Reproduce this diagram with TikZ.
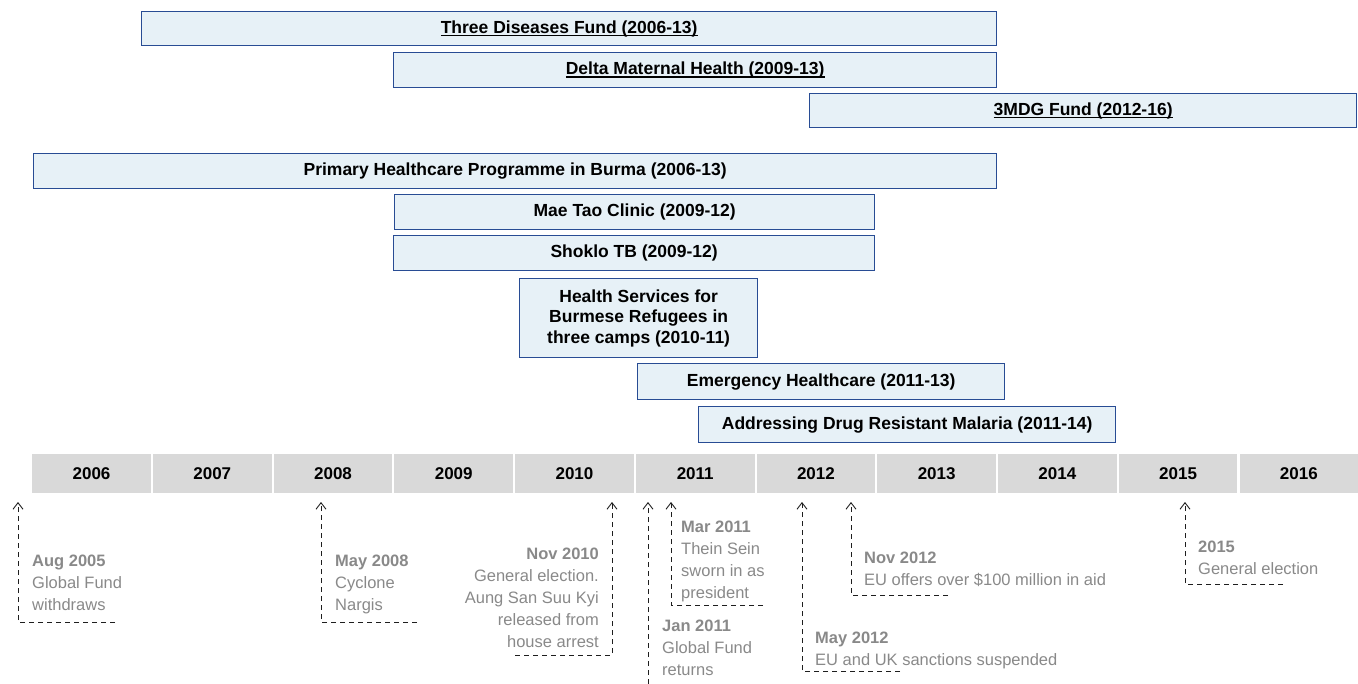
\documentclass[tikz,border=0pt]{standalone}
\usepackage{fontspec}
\setmainfont{Liberation Sans}
\usetikzlibrary{arrows.meta}
\definecolor{barfill}{RGB}{231,241,247}
\definecolor{barline}{RGB}{40,76,148}
\definecolor{cellfill}{RGB}{217,217,217}
\definecolor{evgray}{RGB}{137,137,137}
\definecolor{evline}{RGB}{30,30,30}
\newcommand{\barul}[1]{\setbox0\hbox{#1}\rlap{\vrule height -1.6pt depth 3.0pt width \wd0}\box0}
\begin{document}
\begin{tikzpicture}[x=1pt,y=-1pt,
  bar/.style={draw=barline, fill=barfill, line width=1.3pt, inner sep=0pt, anchor=north west,
    font=\fontsize{17.5}{20.5}\selectfont\bfseries, align=center},
  cell/.style={fill=cellfill, inner sep=0pt, anchor=north west, minimum height=39pt,
    minimum width=118.7pt, font=\fontsize{17}{20}\selectfont\bfseries},
  evtext/.style={inner sep=0pt, text=evgray, font=\fontsize{16.5}{22}\selectfont},
  evarrow/.style={draw=evline, line width=0.9pt, dash pattern=on 5pt off 4pt,
    -{Straight Barb[length=6.5pt,width=10pt]}}
]
\useasboundingbox (0,0) rectangle (1358,684);

% programme bars
\node[bar, minimum width=855pt, minimum height=34pt] (tdf) at (141,11) {\barul{Three Diseases Fund (2006-13)}};
\node[bar, minimum width=603pt, minimum height=35pt] (delta) at (393,52) {\barul{Delta Maternal Health (2009-13)}};
\node[bar, minimum width=547pt, minimum height=34pt] (mdg) at (809,93) {\barul{3MDG Fund (2012-16)}};
\node[bar, minimum width=963pt, minimum height=35pt] (phc) at (33,153) {Primary Healthcare Programme in Burma (2006-13)};
\node[bar, minimum width=480pt, minimum height=35pt] (mtc) at (394,194) {Mae Tao Clinic (2009-12)};
\node[bar, minimum width=481pt, minimum height=35pt] (stb) at (393,235) {Shoklo TB (2009-12)};
\node[bar, minimum width=238pt, minimum height=79pt] (hsb) at (519,278) {Health Services for\\Burmese Refugees in\\three camps (2010-11)};
\node[bar, minimum width=367pt, minimum height=36pt] (emh) at (637,363) {Emergency Healthcare (2011-13)};
\node[bar, minimum width=417pt, minimum height=36pt] (adm) at (698,406) {Addressing Drug Resistant Malaria (2011-14)};

% timeline
\foreach \yr [count=\i from 0] in {2006,...,2016}
  \node[cell] (c\yr) at ({32+\i*120.73},454) {\yr};

% events
\node[evtext, anchor=north west, align=left] (e1) at (32,551.2)
  {\strut\textbf{Aug 2005}\\\strut Global Fund\\\strut withdraws};
\coordinate (e1c) at (115,622); \coordinate (e1t) at (18,502);
\draw[evarrow] (e1c) -| (e1t);

\node[evtext, anchor=north west, align=left] (e2) at (335,551.2)
  {\strut\textbf{May 2008}\\\strut Cyclone\\\strut Nargis};
\coordinate (e2c) at (417,622); \coordinate (e2t) at (321,502);
\draw[evarrow] (e2c) -| (e2t);

\node[evtext, anchor=north east, align=right] (e3) at (599,543.6)
  {\strut\textbf{Nov 2010}\\\strut General election.\\\strut Aung San Suu Kyi\\\strut released from\\\strut house arrest};
\coordinate (e3c) at (515,655); \coordinate (e3t) at (612,502);
\draw[evarrow] (e3c) -| (e3t);

\node[evtext, anchor=north west, align=left] (e4) at (662,615.6)
  {\strut\textbf{Jan 2011}\\\strut Global Fund\\\strut returns};
\coordinate (e4c) at (648,684); \coordinate (e4t) at (648,502);
\draw[evarrow] (e4c) -- (e4t);

\node[evtext, anchor=north west, align=left] (e5) at (681,516.6)
  {\strut\textbf{Mar 2011}\\\strut Thein Sein\\\strut sworn in as\\\strut president};
\coordinate (e5c) at (763,605); \coordinate (e5t) at (671,502);
\draw[evarrow] (e5c) -| (e5t);

\node[evtext, anchor=north west, align=left] (e6) at (815,627.6)
  {\strut\textbf{May 2012}\\\strut EU and UK sanctions suspended};
\coordinate (e6c) at (900,671); \coordinate (e6t) at (802,502);
\draw[evarrow] (e6c) -| (e6t);

\node[evtext, anchor=north west, align=left] (e7) at (864,547.6)
  {\strut\textbf{Nov 2012}\\\strut EU offers over \$100 million in aid};
\coordinate (e7c) at (948,595); \coordinate (e7t) at (851,502);
\draw[evarrow] (e7c) -| (e7t);

\node[evtext, anchor=north west, align=left] (e8) at (1198,536.6)
  {\strut\textbf{2015}\\\strut General election};
\coordinate (e8c) at (1283,584); \coordinate (e8t) at (1185,502);
\draw[evarrow] (e8c) -| (e8t);
\end{tikzpicture}
\end{document}
